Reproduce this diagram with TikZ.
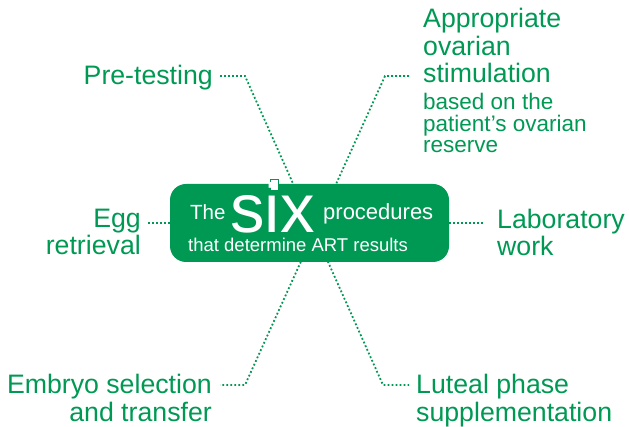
\documentclass[tikz,border=0pt]{standalone}
\usepackage{fontspec}
\setmainfont{Liberation Sans}
\usetikzlibrary{calc}
\definecolor{artgreen}{RGB}{0,153,84}

\begin{document}
\begin{tikzpicture}[x=1pt, y=-1pt,
    biglbl/.style={text=artgreen, inner sep=0pt, font=\fontsize{26.7}{27.8}\selectfont},
    notelbl/.style={text=artgreen, inner sep=0pt, font=\fontsize{22.5}{21.5}\selectfont},
    boxtxt/.style={text=white, inner sep=0pt},
    dotline/.style={draw=artgreen, line width=1.8pt, dash pattern=on 1.8pt off 2.2pt}]
    \useasboundingbox (0,0) rectangle (629,427);
    % Labels round the box (base = last line)
    \node (pretest) [biglbl, anchor=base east] at (213,85) {Pre-testing};
    \node (stim) [biglbl, anchor=base west, align=left] at (423,83) {Appropriate\\ovarian\\stimulation};
    \node (stimnote) [notelbl, anchor=base west, align=left] at (423,153) {based on the\\patient’s ovarian\\reserve};
    \node (egg) [biglbl, anchor=base east, align=right] at (141,255) {Egg\\retrieval};
    \node (lab) [biglbl, anchor=base west, align=left] at (497,256) {Laboratory\\work};
    \node (embryo) [biglbl, anchor=base east, align=right] at (212,421) {Embryo selection\\and transfer};
    \node (luteal) [biglbl, anchor=base west, align=left] at (416,421) {Luteal phase\\supplementation};
    % Bends of the crossing lines
    \coordinate (preBend) at (245,76);
    \coordinate (lutBend) at (383,385);
    \coordinate (stimBend) at (385,76);
    \coordinate (embBend) at (245,385);
    \draw [dotline] ([shift={(7,-9)}]pretest.base east) -- (preBend) -- (lutBend) -- ([shift={(-7,-36)}]luteal.base west);
    \draw [dotline] ([shift={(-14,-7)}]stim.base west) -- (stimBend) -- (embBend) -- ([shift={(8,-36)}]embryo.base east);
    % Central box
    \node (box) [fill=artgreen, rounded corners=16pt, minimum width=279pt, minimum height=78pt, inner sep=0pt] at (309.5,223) {};
    \fill [white, draw=artgreen, line width=0.6pt] (270.5,179) rectangle (278.5,190); % dot of the i
    \node (the) [boxtxt, anchor=base west, font=\fontsize{20.5}{20.5}\selectfont] at (190,220) {The};
    \node (six) [boxtxt, anchor=base west, font=\fontsize{69}{69}\selectfont] at (230,233) {six};
    \node (proc) [boxtxt, anchor=base west, font=\fontsize{22}{22}\selectfont] at (323,220) {procedures};
    \node (art) [boxtxt, anchor=base west, font=\fontsize{18.5}{18.5}\selectfont] at (188,252) {that determine ART results};
    \draw [dotline] (box.west) -- ($(box.west -| egg.east)+(7,0)$);
    \draw [dotline] (box.east) -- ($(box.east -| lab.west)+(-12,0)$);
\end{tikzpicture}
\end{document}
